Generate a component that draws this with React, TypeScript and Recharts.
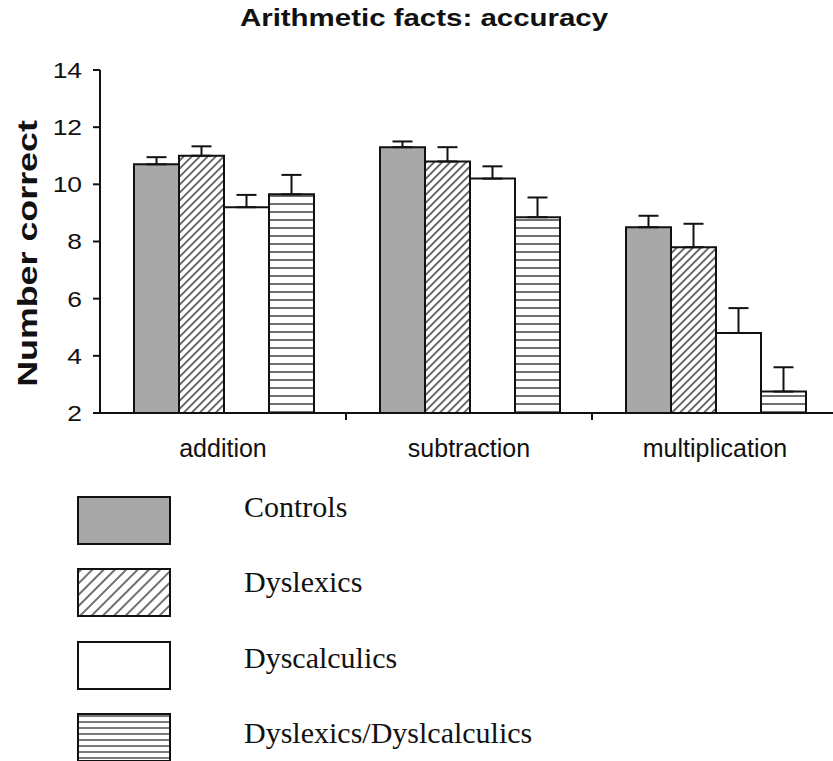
import React from 'react';
import { BarChart, Bar, XAxis, YAxis, ErrorBar } from 'recharts';

// values (group means, upper error bar length)
const categories = ['addition', 'subtraction', 'multiplication'];
const groups = ['Controls', 'Dyslexics', 'Dyscalculics', 'Dyslexics/Dyslcalculics'];
const controls = [10.7, 11.3, 8.5];
const dyslexics = [11.0, 10.8, 7.8];
const dyscalculics = [9.2, 10.2, 4.8];
const combined = [9.65, 8.85, 2.75];
const controlsErr = [0.25, 0.2, 0.4];
const dyslexicsErr = [0.33, 0.5, 0.82];
const dyscalculicsErr = [0.43, 0.43, 0.87];
const combinedErr = [0.68, 0.69, 0.85];
const yTicks = [2, 4, 6, 8, 10, 12, 14];

const keys = ['controls', 'dyslexics', 'dyscalculics', 'combined'];
const fills = ['#a8a8a8', 'url(#hatch)', '#ffffff', 'url(#hlines)'];

const data = categories.map((name, i) => ({
  name,
  controls: controls[i],
  dyslexics: dyslexics[i],
  dyscalculics: dyscalculics[i],
  combined: combined[i],
  controlsErr: [0, controlsErr[i]],
  dyslexicsErr: [0, dyslexicsErr[i]],
  dyscalculicsErr: [0, dyscalculicsErr[i]],
  combinedErr: [0, combinedErr[i]],
}));

const SANS = '"Liberation Sans", Arial, sans-serif';
const SERIF = '"Liberation Serif", "Times New Roman", serif';
const INK = '#111';
const X_TICK_SIZE = 6;
const X_TICK_MARGIN = 20;

const YTick = (props: any) => {
  const { x, y, payload } = props;
  return (
    <g transform={`translate(${x},${y}) scale(1.2,1)`}>
      <text textAnchor="end" dy="0.36em" fontSize={22} fontFamily={SANS} fill={INK}>
        {payload.value}
      </text>
    </g>
  );
};

// category label, plus the small tick mark at the band's right edge
const XTick = (props: any) => {
  const { x, y, payload } = props;
  const half = payload && typeof payload.offset === 'number' ? payload.offset : null;
  const axisY = y - X_TICK_SIZE - X_TICK_MARGIN;
  return (
    <g>
      {half !== null && (
        <line x1={x + half} x2={x + half} y1={axisY} y2={axisY + 7} stroke={INK} strokeWidth={2} />
      )}
      <text x={x} y={y} dy="0.71em" textAnchor="middle" fontSize={25} fontFamily={SANS} fill={INK}>
        {payload.value}
      </text>
    </g>
  );
};

const YLabel = (props: any) => {
  const vb = props.viewBox || { x: 0, y: 70, width: 100, height: 343 };
  const cx = vb.x + 27;
  const cy = vb.y + vb.height / 2 + 12;
  return (
    <g transform={`translate(${cx},${cy}) rotate(-90) scale(1.28,1)`}>
      <text textAnchor="middle" dy="0.36em" fontSize={28} fontWeight="bold" fontFamily={SANS} fill={INK}>
        Number correct
      </text>
    </g>
  );
};

const Swatch = ({ i }: { i: number }) => {
  const w = 92;
  const h = 47;
  const pid = `lg-${i}`;
  let fill = fills[i];
  if (i === 1 || i === 3) fill = `url(#${pid})`;
  return (
    <svg width={w + 2} height={h + 2} style={{ display: 'block', overflow: 'visible' }}>
      <defs>
        {i === 1 && (
          <pattern id={pid} width="8" height="8" patternUnits="userSpaceOnUse" patternTransform="rotate(45)">
            <rect width="8" height="8" fill="#fff" />
            <line x1="4" y1="0" x2="4" y2="8" stroke="#222" strokeWidth="1.3" />
          </pattern>
        )}
        {i === 3 && (
          <pattern id={pid} width="10" height="6" patternUnits="userSpaceOnUse">
            <rect width="10" height="6" fill="#fff" />
            <line x1="0" y1="3" x2="10" y2="3" stroke="#222" strokeWidth="1.2" />
          </pattern>
        )}
      </defs>
      <rect x={1} y={1} width={w} height={h} fill={fill} stroke={INK} strokeWidth={2} />
    </svg>
  );
};

const GroupLegend = () => (
  <div style={{ position: 'absolute', left: 0, top: 0, width: 833, height: 761, pointerEvents: 'none' }}>
    {groups.map((g, i) => (
      <React.Fragment key={g}>
        <div style={{ position: 'absolute', left: 77, top: 496 + i * 72.3 }}>
          <Swatch i={i} />
        </div>
        <div
          style={{
            position: 'absolute',
            left: 244,
            top: 516.7 + i * 75.4 - 27,
            fontFamily: SERIF,
            fontSize: 30,
            lineHeight: '34px',
            color: INK,
            whiteSpace: 'nowrap',
          }}
        >
          {g}
        </div>
      </React.Fragment>
    ))}
  </div>
);

export default function App() {
  return (
    <div style={{ position: 'absolute', left: 0, top: 0, width: 833, height: 761, background: '#fff', overflow: 'hidden' }}>
      <div
        style={{
          position: 'absolute',
          left: 424,
          top: 7,
          transform: 'translateX(-50%) scaleX(1.28)',
          fontFamily: SANS,
          fontWeight: 'bold',
          fontSize: 23,
          lineHeight: '23px',
          color: INK,
          whiteSpace: 'nowrap',
        }}
      >
        Arithmetic facts: accuracy
      </div>
      <BarChart
        width={833}
        height={761}
        data={data}
        margin={{ top: 70, right: -5, bottom: 298, left: 0 }}
        barCategoryGap={34}
        barGap={0}
      >
        <defs>
          <pattern id="hatch" width="5.66" height="5.66" patternUnits="userSpaceOnUse" patternTransform="rotate(45)">
            <rect width="5.66" height="5.66" fill="#fff" />
            <line x1="2.83" y1="0" x2="2.83" y2="5.66" stroke="#222" strokeWidth="1.3" />
          </pattern>
          <pattern id="hlines" width="10" height="8" patternUnits="userSpaceOnUse">
            <rect width="10" height="8" fill="#fff" />
            <line x1="0" y1="4" x2="10" y2="4" stroke="#222" strokeWidth="1.3" />
          </pattern>
        </defs>
        <XAxis
          dataKey="name"
          height={50}
          tickLine={false}
          tickSize={X_TICK_SIZE}
          tickMargin={X_TICK_MARGIN}
          interval={0}
          axisLine={{ stroke: INK, strokeWidth: 2 }}
          tick={<XTick />}
        />
        <YAxis
          width={100}
          domain={[2, 14]}
          ticks={yTicks}
          allowDataOverflow
          tickSize={7}
          tickMargin={11}
          axisLine={{ stroke: INK, strokeWidth: 2 }}
          tickLine={{ stroke: INK, strokeWidth: 2 }}
          tick={<YTick />}
          label={<YLabel />}
        />
        {keys.map((k, i) => (
          <Bar key={k} dataKey={k} name={groups[i]} fill={fills[i]} stroke={INK} strokeWidth={2} isAnimationActive={false}>
            <ErrorBar dataKey={`${k}Err`} direction="y" width={10} stroke={INK} strokeWidth={2} />
          </Bar>
        ))}
      </BarChart>
      <GroupLegend />
    </div>
  );
}
